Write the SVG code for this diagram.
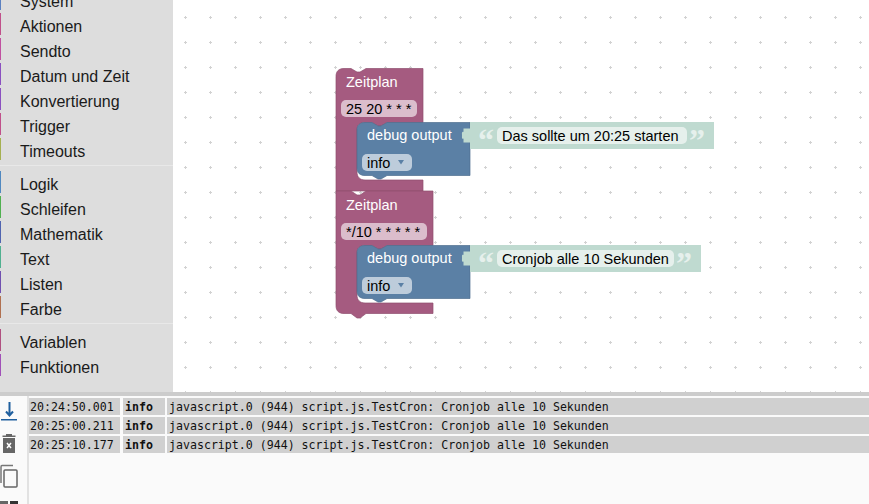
<svg xmlns="http://www.w3.org/2000/svg" width="869" height="504" viewBox="0 0 869 504">
<style>
text{font-family:"Liberation Sans",Arial,sans-serif}
.m{font-size:16px;fill:#1a1a1a}
.w{font-size:14.5px;fill:#fff}
.b{font-size:14.5px;fill:#000}
.l{font-family:"DejaVu Sans Mono","Liberation Mono",monospace;font-size:11.6px;fill:#111}
.sched{fill:#a55b80;stroke:#8f4f6f;stroke-width:.7}
.dbg{fill:#5b80a5;stroke:#4f6f8f;stroke-width:.7}
.txt{fill:#bfdad0}
.fld{fill:#dbbdcc}
.inf{fill:#bdccdb}
.tf{fill:#e6f0ec}
.q{font-family:"Liberation Serif",serif;font-size:32px;font-weight:bold;fill:#e6f0ec}
.bar{width:1px;height:22px}
.cell{fill:#d0d0d0}
</style>
<defs>
<pattern id="grid" x="8" y="15" width="25" height="25" patternUnits="userSpaceOnUse">
<path d="M2.500 1V4M1 2.500H4" stroke="#d2d2d2" stroke-width="1" fill="none"/>
</pattern>
<path id="puzzle" d="M470.500 128.500H463.500V132C461.500 131 462 134 462 135C462 137 461.500 139.500 463.500 138.500V142.500H470.500Z"/>
</defs>
<rect width="869" height="504" fill="#fff"/>
<rect x="173" width="696" height="392" fill="url(#grid)"/>
<g id="toolbox">
<rect width="173" height="392" fill="#ddd"/>
<rect y="165" width="173" height="1" fill="#e8e8e8"/>
<rect y="323" width="173" height="1" fill="#e8e8e8"/>
<rect class="bar" y="-12" fill="#5b80c0"/>
<rect class="bar" y="13" fill="#c0508a"/>
<rect class="bar" y="38" fill="#c050a0"/>
<rect class="bar" y="63" fill="#8a50c0"/>
<rect class="bar" y="88" fill="#8a50c0"/>
<rect class="bar" y="113" fill="#c0508a"/>
<rect class="bar" y="138" fill="#a5b050"/>
<rect class="bar" y="171" fill="#5088c0"/>
<rect class="bar" y="196" fill="#50b050"/>
<rect class="bar" y="221" fill="#5064b0"/>
<rect class="bar" y="246" fill="#50b090"/>
<rect class="bar" y="271" fill="#7050b0"/>
<rect class="bar" y="296" fill="#b07050"/>
<rect class="bar" y="329" fill="#b05080"/>
<rect class="bar" y="354" fill="#a050b8"/>
<text class="m" x="20" y="7">System</text>
<text class="m" x="20" y="32">Aktionen</text>
<text class="m" x="20" y="57">Sendto</text>
<text class="m" x="20" y="82">Datum und Zeit</text>
<text class="m" x="20" y="107">Konvertierung</text>
<text class="m" x="20" y="132">Trigger</text>
<text class="m" x="20" y="157">Timeouts</text>
<text class="m" x="20" y="190">Logik</text>
<text class="m" x="20" y="215">Schleifen</text>
<text class="m" x="20" y="240">Mathematik</text>
<text class="m" x="20" y="265">Text</text>
<text class="m" x="20" y="290">Listen</text>
<text class="m" x="20" y="315">Farbe</text>
<text class="m" x="20" y="348">Variablen</text>
<text class="m" x="20" y="373">Funktionen</text>
</g>
<g id="connectors"></g>
<g id="zeitplan1">
<path class="sched" d="M344 68.500H351L357 72H360L366 68.500H423V122.500H387L381 126H378L372 122.500H365C360 122.500 357 125 357 130V172C357 177 360 180 365 180H423V191H336V76.500C336 71 339 68.500 344 68.500Z"/>
<text class="w" x="346" y="87">Zeitplan</text>
<rect class="fld" x="341" y="100" width="76" height="17" rx="5"/>
<text class="b" x="346" y="113.500">25 20 * * *</text>
</g>
<g id="debug1">
<path class="dbg" d="M365 122.500H372L378 126H381L387 122.500H470V175.500H387L381 179H378L372 175.500H365C360 175.500 357 173 357 168V130C357 125 360 122.500 365 122.500Z"/>
<text class="w" x="367" y="140">debug output</text>
<rect class="inf" x="362" y="154" width="50" height="17" rx="5"/>
<text class="b" x="367" y="168">info</text>
<path d="M398 160H404L401 164.500Z" fill="#5b80a5"/>
</g>
<g id="text1">
<rect class="txt" x="470" y="122" width="244" height="27"/>
<use href="#puzzle" fill="#bfdad0"/>
<text class="q" x="478" y="151">“</text>
<rect class="tf" x="497" y="127" width="190" height="17" rx="5"/>
<text class="b" x="502" y="141">Das sollte um 20:25 starten</text>
<text class="q" x="689" y="151">”</text>
</g>
<g id="zeitplan2">
<path class="sched" d="M336 191H351L357 195H360L366 191H433V245.500H387L381 249H378L372 245.500H365C360 245.500 357 248 357 253V295C357 300 360 303 365 303H433V313.500H366L360 318H357L351 313.500H344C339 313.500 336 311 336 305.500Z"/>
<text class="w" x="346" y="210">Zeitplan</text>
<rect class="fld" x="341" y="223" width="86" height="17" rx="5"/>
<text class="b" x="346" y="236.500">*/10 * * * * *</text>
</g>
<g id="debug2">
<path class="dbg" d="M365 245.500H372L378 249H381L387 245.500H470V298.500H387L381 302H378L372 298.500H365C360 298.500 357 296 357 291V253C357 248 360 245.500 365 245.500Z"/>
<text class="w" x="367" y="263">debug output</text>
<rect class="inf" x="362" y="277" width="50" height="17" rx="5"/>
<text class="b" x="367" y="291">info</text>
<path d="M398 283H404L401 287.500Z" fill="#5b80a5"/>
</g>
<g id="text2">
<rect class="txt" x="470" y="245" width="231" height="27"/>
<use href="#puzzle" fill="#bfdad0" y="123"/>
<text class="q" x="478" y="274">“</text>
<rect class="tf" x="497" y="250" width="177" height="17" rx="5"/>
<text class="b" x="502" y="264">Cronjob alle 10 Sekunden</text>
<text class="q" x="676" y="274">”</text>
</g>
<g id="log">
<rect y="392" width="869" height="112" fill="#fafafa"/>
<rect y="392" width="869" height="4" fill="#ccc"/>
<rect x="27" y="396" width="2" height="108" fill="#e2e2e2"/>
<path d="M9.500 402V415M6 411.500L9.500 415.500L13 411.500" fill="none" stroke="#1f5f9e" stroke-width="2"/>
<rect x="1" y="419" width="16" height="1.500" fill="#1f5f9e"/>
<path d="M3 438H15V453H3ZM2.500 435.500H15.500V437H2.500ZM6 434H12V435.500H6Z" fill="#666"/>
<path d="M7 443L11 448M11 443L7 448" stroke="#fff" stroke-width="1.500"/>
<path d="M1 483V467C1 466 1.500 465.500 2 465.500H13" fill="none" stroke="#777" stroke-width="1.500"/>
<rect x="4" y="470" width="13" height="17" rx="1" fill="none" stroke="#666" stroke-width="1.500"/>
<rect x="0" y="501" width="8" height="3" fill="#666"/><rect x="10" y="501" width="8" height="3" fill="#333"/>
<rect class="cell" x="29" y="398" width="91" height="17"/><rect class="cell" x="123" y="398" width="42" height="17"/><rect class="cell" x="167" y="398" width="702" height="17"/>
<rect class="cell" x="29" y="417" width="91" height="17"/><rect class="cell" x="123" y="417" width="42" height="17"/><rect class="cell" x="167" y="417" width="702" height="17"/>
<rect class="cell" x="29" y="436" width="91" height="17"/><rect class="cell" x="123" y="436" width="42" height="17"/><rect class="cell" x="167" y="436" width="702" height="17"/>
<text class="l" x="30" y="411">20:24:50.001</text><text class="l" x="125" y="411" font-weight="bold">info</text><text class="l" x="169" y="411">javascript.0 (944) script.js.TestCron: Cronjob alle 10 Sekunden</text>
<text class="l" x="30" y="430">20:25:00.211</text><text class="l" x="125" y="430" font-weight="bold">info</text><text class="l" x="169" y="430">javascript.0 (944) script.js.TestCron: Cronjob alle 10 Sekunden</text>
<text class="l" x="30" y="449">20:25:10.177</text><text class="l" x="125" y="449" font-weight="bold">info</text><text class="l" x="169" y="449">javascript.0 (944) script.js.TestCron: Cronjob alle 10 Sekunden</text>
</g>
</svg>
